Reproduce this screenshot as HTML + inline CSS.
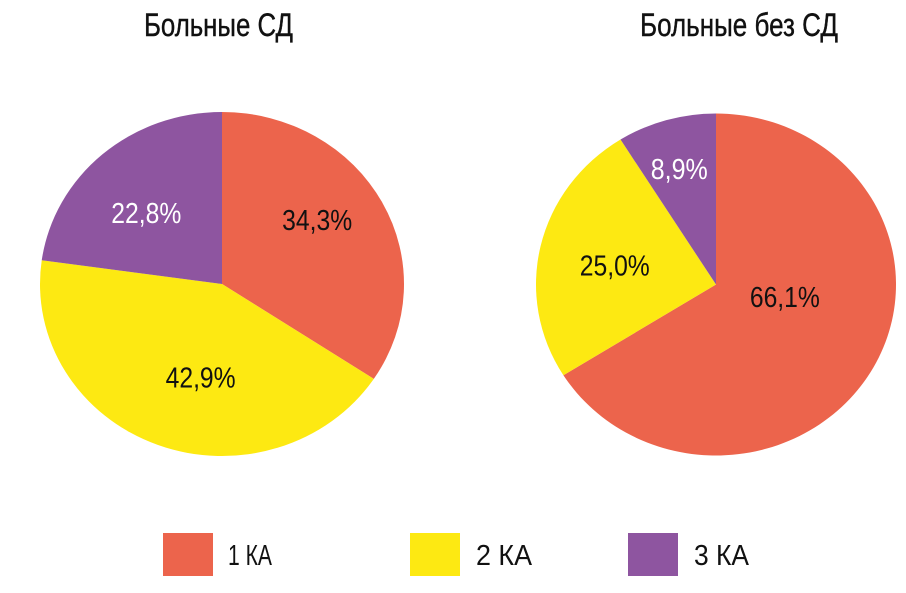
<!DOCTYPE html>
<html><head><meta charset="utf-8"><style>
html,body{margin:0;padding:0;background:#fff;}
svg{display:block;font-family:"Liberation Sans Narrow","Liberation Sans",sans-serif;}
</style></head><body>
<svg id="chart" width="906" height="593" viewBox="0 0 906 593">
<text x="144" y="36" font-size="32" textLength="149" lengthAdjust="spacingAndGlyphs" fill="#111" stroke="#111" stroke-width="0.4">Больные СД</text>
<text x="640" y="36" font-size="32" textLength="198" lengthAdjust="spacingAndGlyphs" fill="#111" stroke="#111" stroke-width="0.4">Больные без СД</text>
<g id="pies"></g>
<g>
<rect x="163" y="533" width="50" height="43" fill="#EC644C"/>
<text x="228" y="565" font-size="29" textLength="44" lengthAdjust="spacingAndGlyphs" fill="#111">1 КА</text>
<rect x="410" y="533" width="50" height="43" fill="#FDE912"/>
<text x="476" y="565" font-size="29" textLength="56" lengthAdjust="spacingAndGlyphs" fill="#111">2 КА</text>
<rect x="628" y="533" width="50" height="43" fill="#8E55A0"/>
<text x="694" y="565" font-size="29" textLength="55" lengthAdjust="spacingAndGlyphs" fill="#111">3 КА</text>
</g>
</svg>
<script>
const categories = ['1 КА', '2 КА', '3 КА'];
const diabetesValues = [34.3, 42.9, 22.8];
const noDiabetesValues = [66.1, 25.0, 8.9];
const valueLabels1 = ['34,3%', '42,9%', '22,8%'];
const valueLabels2 = ['66,1%', '25,0%', '8,9%'];
const colors = ['#EC644C', '#FDE912', '#8E55A0'];
const textColors = ['#111', '#111', '#fff'];
const NS = 'http://www.w3.org/2000/svg';
const g = document.getElementById('pies');
function pie(cx, cy, rx, ry, vals, labels, id, lf, off) {
  const tot = vals.reduce((a, b) => a + b, 0);
  let a0 = 0;
  vals.forEach((v, i) => {
    const a1 = a0 + v / tot * 2 * Math.PI;
    const x0 = cx + rx * Math.sin(a0), y0 = cy - ry * Math.cos(a0);
    const x1 = cx + rx * Math.sin(a1), y1 = cy - ry * Math.cos(a1);
    const large = (a1 - a0) > Math.PI ? 1 : 0;
    const p = document.createElementNS(NS, 'path');
    p.setAttribute('d', `M${cx},${cy} L${x0},${y0} A${rx},${ry} 0 ${large} 1 ${x1},${y1} Z`);
    p.setAttribute('fill', colors[i]);
    
    
    g.appendChild(p);
    const m = (a0 + a1) / 2;
    const t = document.createElementNS(NS, 'text');
    t.setAttribute('x', cx + rx * lf[i] * Math.sin(m) + off[i][0]);
    t.setAttribute('y', cy - ry * lf[i] * Math.cos(m) + 10 + off[i][1]);
    t.setAttribute('text-anchor', 'middle');
    t.setAttribute('font-size', '29');
    t.setAttribute('textLength', labels[i].length > 4 ? 70 : 57);
    t.setAttribute('lengthAdjust', 'spacingAndGlyphs');
    t.setAttribute('fill', textColors[i]);
    t.textContent = labels[i];
    
    
    g.appendChild(t);
    a0 = a1;
  });
}
pie(222, 284, 182, 172, diabetesValues, valueLabels1, 'diabetes', [0.6, 0.55, 0.6], [[-1,-15],[14,5],[-4,7]]);
pie(716, 284.5, 180, 171, noDiabetesValues, valueLabels2, 'no-diabetes', [0.45, 0.6, 0.72], [[-2,-25],[4,4],[-1,3]]);
</script>
</body></html>
